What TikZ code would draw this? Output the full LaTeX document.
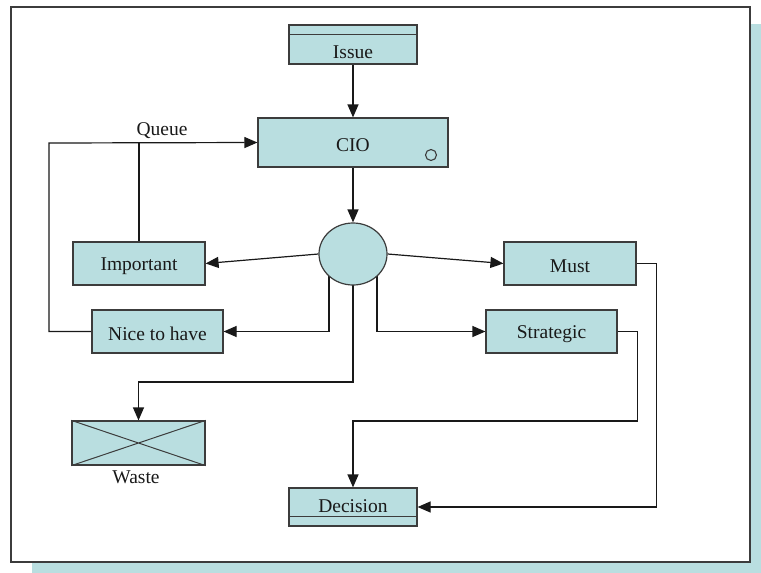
\documentclass[tikz,border=0pt]{standalone}
\usepackage{fontspec}
\setmainfont{Liberation Serif}
\usetikzlibrary{arrows.meta,shapes.geometric}
\definecolor{boxfill}{RGB}{185,222,224}
\definecolor{boxline}{RGB}{60,60,60}
\definecolor{wire}{RGB}{25,25,25}
\pgfdeclarelayer{bg}
\pgfdeclarelayer{wires}
\pgfsetlayers{bg,wires,main}
\tikzset{
  box/.style={draw=boxline, fill=boxfill, line width=1.2pt, inner sep=0pt},
  wirestyle/.style={draw=wire, line width=1.2pt, -{Triangle[length=13pt,width=11pt]}},
  plainwire/.style={draw=wire, line width=1.2pt},
  lbl/.style={inner sep=0pt, font=\fontsize{19.5}{22}\selectfont, text=black!90}
}
\begin{document}
\begin{tikzpicture}[x=1pt,y=-1pt]
\useasboundingbox (0,0) rectangle (761,573);

% page frame with its offset shadow
\begin{pgfonlayer}{bg}
  \fill[boxfill] (32,24) rectangle (761,573);
  \draw[fill=white, draw=boxline, line width=1.4pt] (11,7) rectangle (750,562);
\end{pgfonlayer}

% boxes
\node[box, minimum width=128pt, minimum height=39pt] (issue) at (353,44.5) {};
\node[lbl] (issuet) at (353,52) {Issue};
\draw[boxline, line width=1.2pt] ([yshift=-10pt]issue.north west) -- ([yshift=-10pt]issue.north east);

\node[box, minimum width=190pt, minimum height=49pt] (cio) at (353,142.5) {};
\node[lbl] (ciot) at (353,145) {CIO};
\draw[boxline, line width=1.1pt] (431,155) circle (5.5pt);

\node[box, ellipse, minimum width=68pt, minimum height=62pt] (hub) at (353,254) {};

\node[box, minimum width=132pt, minimum height=43pt] (imp) at (139,263.5) {};
\node[lbl] (impt) at (139,266) {Important};

\node[box, minimum width=131pt, minimum height=43pt] (nice) at (157.5,331.5) {};
\node[lbl] (nicet) at (157.5,334) {Nice to have};

\node[box, minimum width=132pt, minimum height=43pt] (must) at (570,263.5) {};
\node[lbl] (mustt) at (570,266) {Must};

\node[box, minimum width=131pt, minimum height=43pt] (strat) at (551.5,331.5) {};
\node[lbl] (stratt) at (551.5,334) {Strategic};

\node[box, minimum width=133pt, minimum height=44pt] (waste) at (138.5,443) {};
\draw[boxline, line width=1pt] (waste.north west) -- (waste.south east)
                               (waste.south west) -- (waste.north east);
\node[lbl] (wastet) at (136,477) {Waste};

\node[box, minimum width=128pt, minimum height=38pt] (dec) at (353,507) {};
\node[lbl] (dect) at (353,506) {Decision};
\draw[boxline, line width=1.2pt] ([yshift=10pt]dec.south west) -- ([yshift=10pt]dec.south east);

\node[lbl] (queue) at (162,131) {Queue};

% connectors
\coordinate (qcorner) at (49,143);
\begin{pgfonlayer}{wires}
  \draw[wirestyle] (issue.south) -- (cio.north);
  \draw[wirestyle] (cio.south) -- (hub.north);
  \draw[wirestyle] (hub.west) -- (imp.east);
  \draw[wirestyle] (hub.east) -- (must.west);
  \draw[wirestyle] ([xshift=-24pt]hub.center) |- (nice.east);
  \draw[wirestyle] ([xshift=24pt]hub.center) |- (strat.west);
  \draw[wirestyle] (hub.center) -- ++(0,128) -| (waste.north);
  \draw[wirestyle] (nice.west) -| (qcorner) -- (cio.west);
  \draw[plainwire] (imp.north) -- (imp.north |- cio.west);
  \draw[wirestyle] (must.east) -- ++(20,0) |- (dec.east);
  \draw[wirestyle] (strat.east) -- ++(20,0) |- (dec.north |- 0,421) -- (dec.north);
\end{pgfonlayer}
\end{tikzpicture}
\end{document}
